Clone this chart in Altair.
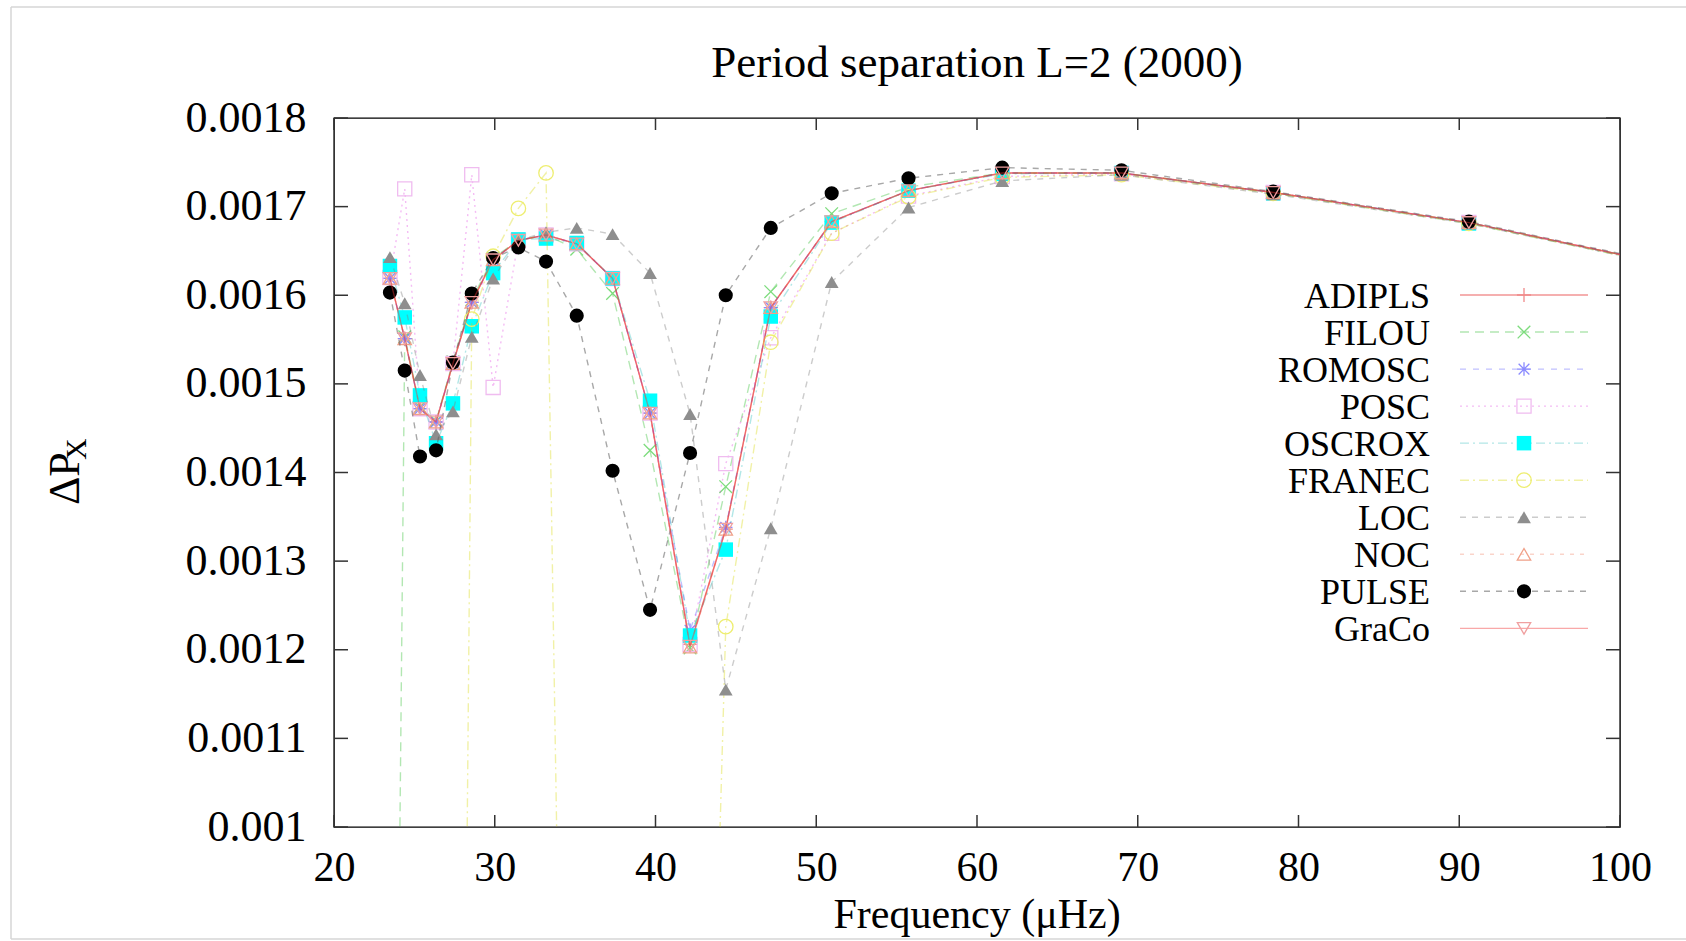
import altair as alt
import pandas as pd

SERIF = "Liberation Serif"

# Mode frequencies (µHz) shared by all codes; the last one lies past the right edge
FREQ = [23.48, 24.40, 25.35, 26.35, 27.40, 28.57, 29.90, 31.47, 33.19, 35.10,
        37.33, 39.66, 42.15, 44.37, 47.17, 50.96, 55.74, 61.57, 68.99, 78.43,
        90.60, 106.0]

# Period separation per code (None = no value at that frequency)
ADIPLS = [0.001619, 0.001551, 0.001472, 0.001457, 0.001523, 0.001592, 0.001640, 0.001662,
          0.001668, 0.001658, 0.001619, 0.001467, 0.001206, 0.001336, 0.001586, 0.001683,
          0.001718, 0.001738, 0.001738, 0.001716, 0.001682, 0.001623]
FILOU = [-0.00015, 0.001553, 0.001474, 0.001458, 0.001525, 0.001595, 0.001642, 0.001662,
         0.001668, 0.001652, 0.001602, 0.001425, 0.001202, 0.001384, 0.001604, 0.001692,
         0.001722, 0.001738, 0.001738, 0.001716, 0.001682, 0.001623]
ROMOSC = [0.001619, 0.001551, 0.001472, 0.001457, 0.001523, 0.001592, 0.001640, 0.001662,
          0.001668, 0.001658, 0.001619, 0.001467, 0.001222, 0.001338, 0.001586, 0.001683,
          0.001718, 0.001738, 0.001738, 0.001716, 0.001682, 0.001623]
POSC = [0.001620, 0.001720, 0.001472, 0.001457, 0.001523, 0.001736, 0.001496, 0.001662,
        0.001668, 0.001658, 0.001619, 0.001467, 0.001206, 0.001410, 0.001552, 0.001670,
        0.001712, 0.001734, 0.001737, 0.001716, 0.001682, 0.001623]
OSCROX = [0.001633, 0.001575, 0.001487, 0.001433, 0.001478, 0.001565, 0.001625, 0.001663,
          0.001664, 0.001659, 0.001619, 0.001481, 0.001216, 0.001313, 0.001576, 0.001682,
          0.001718, 0.001737, 0.001738, 0.001715, 0.001681, 0.001622]
FRANEC = [None, None, None, None, -0.0008, 0.001573, 0.001644, 0.001698,
          0.001738, -0.0004, None, None, -0.0002, 0.001226, 0.001547, 0.001670,
          0.001711, 0.001733, 0.001736, 0.001715, 0.001681, 0.001622]
LOC = [0.001643, 0.001591, 0.001510, 0.001443, 0.001469, 0.001553, 0.001619, 0.001662,
       0.001671, 0.001676, 0.001669, 0.001625, 0.001466, 0.001155, 0.001337, 0.001615,
       0.001699, 0.001729, 0.001736, 0.001714, 0.001681, 0.001622]
NOC = [0.001619, 0.001551, 0.001472, 0.001457, 0.001523, 0.001592, 0.001640, 0.001662,
       0.001668, 0.001658, 0.001619, 0.001467, 0.001203, 0.001336, 0.001586, 0.001683,
       0.001718, 0.001738, 0.001738, 0.001716, 0.001682, 0.001623]
PULSE = [0.001603, 0.001515, 0.001418, 0.001425, 0.001524, 0.001602, 0.001642, 0.001654,
         0.001638, 0.001577, 0.001402, 0.001245, 0.001422, 0.001600, 0.001676, 0.001715,
         0.001732, 0.001744, 0.001741, 0.001717, 0.001683, 0.001624]
GRACO = [0.001619, 0.001551, 0.001472, 0.001457, 0.001523, 0.001592, 0.001640, 0.001662,
         0.001668, 0.001658, 0.001619, 0.001467, 0.001204, 0.001336, 0.001586, 0.001683,
         0.001718, 0.001738, 0.001738, 0.001716, 0.001682, 0.001623]

SERIES = ["ADIPLS", "FILOU", "ROMOSC", "POSC", "OSCROX", "FRANEC", "LOC", "NOC", "PULSE", "GraCo"]
VALUES = [ADIPLS, FILOU, ROMOSC, POSC, OSCROX, FRANEC, LOC, NOC, PULSE, GRACO]

X_TICKS = [20, 30, 40, 50, 60, 70, 80, 90, 100]
Y_TICKS = [0.0010, 0.0011, 0.0012, 0.0013, 0.0014, 0.0015, 0.0016, 0.0017, 0.0018]

TITLE = "Period separation L=2 (2000)"
X_TITLE = "Frequency (μHz)"

W, H = 1286, 709

# Marker glyphs drawn as strokes
PLUS = "M-1,0L1,0M0,-1L0,1"
CROSS = "M-1,-1L1,1M-1,1L1,-1"
STAR = "M-1,0L1,0M0,-1L0,1M-0.8,-0.8L0.8,0.8M-0.8,0.8L0.8,-0.8"

STYLE = {
    "ADIPLS": dict(line="#e00000", lo=0.42, dash=None, mk=PLUS, mc="#f08a8a", filled=False, size=200),
    "FILOU": dict(line="#00b000", lo=0.3, dash=[9, 6], mk=CROSS, mc="#7ddc7d", filled=False, size=160),
    "ROMOSC": dict(line="#3030ff", lo=0.3, dash=[6, 7], mk=STAR, mc="#8a8aff", filled=False, size=180),
    "POSC": dict(line="#e040e0", lo=0.35, dash=[2, 4], mk="square", mc="#f0bcf0", filled=False, size=200),
    "OSCROX": dict(line="#00b0b0", lo=0.3, dash=[9, 4, 2, 4], mk="square", mc="#00ffff", filled=True, size=210),
    "FRANEC": dict(line="#d8d800", lo=0.35, dash=[9, 4, 2, 4], mk="circle", mc="#eeee70", filled=False, size=210),
    "LOC": dict(line="#808080", lo=0.4, dash=[6, 6], mk="triangle-up", mc="#8e8e8e", filled=True, size=190),
    "NOC": dict(line="#f07050", lo=0.3, dash=[4, 6], mk="triangle-up", mc="#f0a088", filled=False, size=180),
    "PULSE": dict(line="#606060", lo=0.55, dash=[6, 6], mk="circle", mc="#000000", filled=True, size=200),
    "GraCo": dict(line="#f03030", lo=0.42, dash=None, mk="triangle-down", mc="#f0a0a0", filled=False, size=180),
}

x_enc = alt.X(
    "f:Q",
    scale=alt.Scale(domain=[20, 100], nice=False, zero=False),
    axis=alt.Axis(values=X_TICKS, title=None, labelPadding=20, labelFlush=False, labelFontSize=42),
)
y_enc = alt.Y(
    "v:Q",
    scale=alt.Scale(domain=[0.001, 0.0018], nice=False, zero=False),
    axis=alt.Axis(values=Y_TICKS, format="~g", title=None, labelPadding=28, labelFontSize=44),
)

layers = []

# Inward tick marks on all four sides of the frame
xt = alt.Chart(pd.DataFrame({"f": X_TICKS}))
yt = alt.Chart(pd.DataFrame({"v": Y_TICKS}))
tick_style = dict(color="#333333", strokeWidth=1.5)
layers += [
    xt.mark_rule(**tick_style).encode(x=x_enc, y=alt.value(H), y2=alt.value(H - 12)),
    xt.mark_rule(**tick_style).encode(x=x_enc, y=alt.value(0), y2=alt.value(12)),
    yt.mark_rule(**tick_style).encode(y=y_enc, x=alt.value(0), x2=alt.value(14)),
    yt.mark_rule(**tick_style).encode(y=y_enc, x=alt.value(W), x2=alt.value(W - 14)),
]

# Curves and markers, one code after another
for name, vals in zip(SERIES, VALUES):
    st = STYLE[name]
    df = pd.DataFrame({"f": FREQ, "v": vals}).dropna()
    base = alt.Chart(df)
    line_kw = dict(clip=True, color=st["line"], strokeOpacity=st["lo"], strokeWidth=1.4)
    if st["dash"]:
        line_kw["strokeDash"] = st["dash"]
    layers.append(base.mark_line(**line_kw).encode(x=x_enc, y=y_enc))
    pt_kw = dict(clip=True, shape=st["mk"], filled=st["filled"], size=st["size"],
                 color=st["mc"], opacity=1)
    if not st["filled"]:
        pt_kw["strokeWidth"] = 1.3
    layers.append(base.mark_point(**pt_kw).encode(x=x_enc, y=y_enc))

# Key: name, line sample and marker on each row
ROW0, ROW_STEP = 177, 37.04
for i, name in enumerate(SERIES):
    st = STYLE[name]
    ry = ROW0 + i * ROW_STEP
    one = alt.Chart(pd.DataFrame({"name": [name]}))
    layers.append(one.mark_text(align="right", baseline="middle", font=SERIF,
                                fontSize=36, color="black", dy=2)
                  .encode(x=alt.value(1096), y=alt.value(ry), text="name:N"))
    rule_kw = dict(color=st["line"], strokeOpacity=st["lo"], strokeWidth=1.4)
    if st["dash"]:
        rule_kw["strokeDash"] = st["dash"]
    layers.append(one.mark_rule(**rule_kw)
                  .encode(x=alt.value(1126), x2=alt.value(1254), y=alt.value(ry)))
    pt_kw = dict(shape=st["mk"], filled=st["filled"], size=st["size"], color=st["mc"], opacity=1)
    if not st["filled"]:
        pt_kw["strokeWidth"] = 1.3
    layers.append(one.mark_point(**pt_kw).encode(x=alt.value(1190), y=alt.value(ry)))

# Titles drawn as text
lab = alt.Chart(pd.DataFrame({"t": [TITLE]}))
layers.append(lab.mark_text(align="center", baseline="alphabetic", font=SERIF, fontSize=45,
                            color="black")
              .encode(x=alt.value(W / 2), y=alt.value(-41), text="t:N"))
xl = alt.Chart(pd.DataFrame({"t": [X_TITLE]}))
layers.append(xl.mark_text(align="center", baseline="alphabetic", font=SERIF, fontSize=42,
                           color="black")
              .encode(x=alt.value(W / 2), y=alt.value(810), text="t:N"))
yl = alt.Chart(pd.DataFrame({"t": ["ΔP"]}))
layers.append(yl.mark_text(align="left", baseline="alphabetic", font=SERIF, fontSize=44,
                           angle=270, color="black")
              .encode(x=alt.value(-255), y=alt.value(387), text="t:N"))
ys = alt.Chart(pd.DataFrame({"t": ["X"]}))
layers.append(ys.mark_text(align="left", baseline="alphabetic", font=SERIF, fontSize=30,
                           angle=270, color="black")
              .encode(x=alt.value(-248), y=alt.value(342), text="t:N"))

# Light page border
edge = alt.Chart(pd.DataFrame({"k": [0]}))
layers += [
    edge.mark_rule(color="#d6d6d6", strokeWidth=1.5)
    .encode(x=alt.value(-323), y=alt.value(-111), y2=alt.value(821)),
    edge.mark_rule(color="#d6d6d6", strokeWidth=1.5)
    .encode(y=alt.value(-111), x=alt.value(-323), x2=alt.value(1352)),
    edge.mark_rule(color="#d6d6d6", strokeWidth=1.5)
    .encode(y=alt.value(821), x=alt.value(-323), x2=alt.value(1352)),
]

chart = (
    alt.layer(*layers)
    .properties(
        width=W,
        height=H,
        autosize=alt.AutoSizeParams(type="none"),
        padding={"left": 334, "top": 118, "right": 66, "bottom": 114},
        background="white",
    )
    .configure_view(stroke="black", strokeWidth=1.4)
    .configure_axis(
        labelFont=SERIF, labelFontSize=40, labelColor="black",
        domain=False, ticks=False, grid=False,
    )
)

chart.save("out.html", embed_options={"renderer": "svg", "actions": False})
